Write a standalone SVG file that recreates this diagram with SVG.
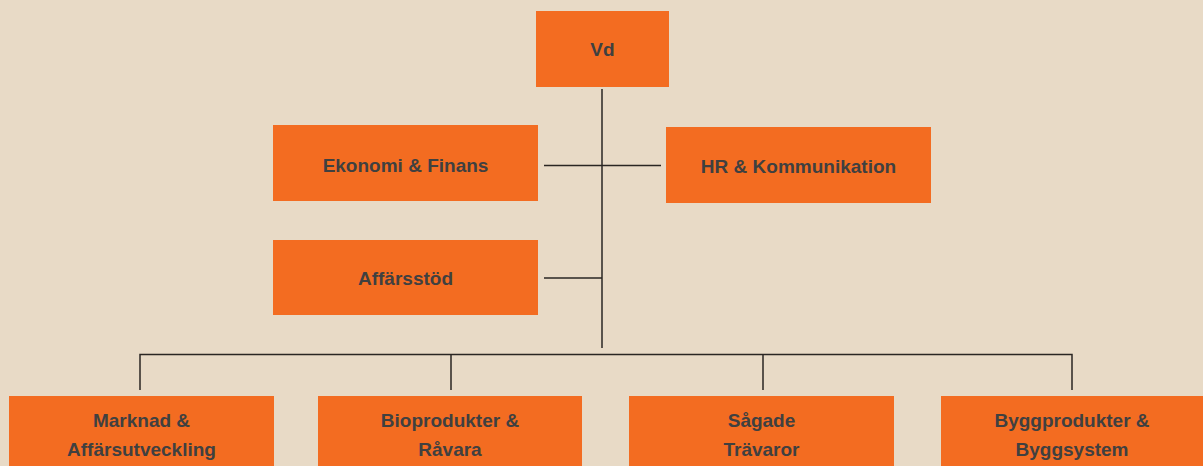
<svg xmlns="http://www.w3.org/2000/svg" width="1203" height="466" viewBox="0 0 1203 466">
<style>
.box{fill:#f36c21}
.t{font-family:"Liberation Sans",Arial,sans-serif;font-weight:bold;font-size:19px;fill:#3f4040;text-anchor:middle}
.c{stroke:#2a2623;stroke-width:1.5;fill:none}
</style>
<rect width="1203" height="466" fill="#e8dac6"/>
<g id="connectors">
<path class="c" d="M602 89V348"/>
<path class="c" d="M544 165.5H661"/>
<path class="c" d="M544 278H602"/>
<path class="c" d="M140 390V354.5H1072V390"/>
<path class="c" d="M451 354.5V390M763 354.5V390"/>
</g>
<g id="vd"><rect class="box" x="536" y="11" width="133" height="76"/><text class="t" x="602.5" y="56">Vd</text></g>
<g id="ekonomi"><rect class="box" x="273" y="125" width="265" height="76"/><text class="t" x="405.5" y="172">Ekonomi &amp; Finans</text></g>
<g id="hr"><rect class="box" x="666" y="127" width="265" height="76"/><text class="t" x="798.5" y="173">HR &amp; Kommunikation</text></g>
<g id="affarsstod"><rect class="box" x="273" y="240" width="265" height="75"/><text class="t" x="405.5" y="285">Affärsstöd</text></g>
<g id="marknad"><rect class="box" x="9" y="396" width="265" height="75"/><text class="t" x="141.5" y="427">Marknad &amp;</text><text class="t" x="141.5" y="456">Affärsutveckling</text></g>
<g id="bioprodukter"><rect class="box" x="318" y="396" width="264" height="75"/><text class="t" x="450" y="427">Bioprodukter &amp;</text><text class="t" x="450" y="456">Råvara</text></g>
<g id="sagade"><rect class="box" x="629" y="396" width="265" height="75"/><text class="t" x="761.5" y="427">Sågade</text><text class="t" x="761.5" y="456">Trävaror</text></g>
<g id="byggprodukter"><rect class="box" x="941" y="396" width="265" height="75"/><text class="t" x="1072" y="427">Byggprodukter &amp;</text><text class="t" x="1072" y="456">Byggsystem</text></g>
</svg>
